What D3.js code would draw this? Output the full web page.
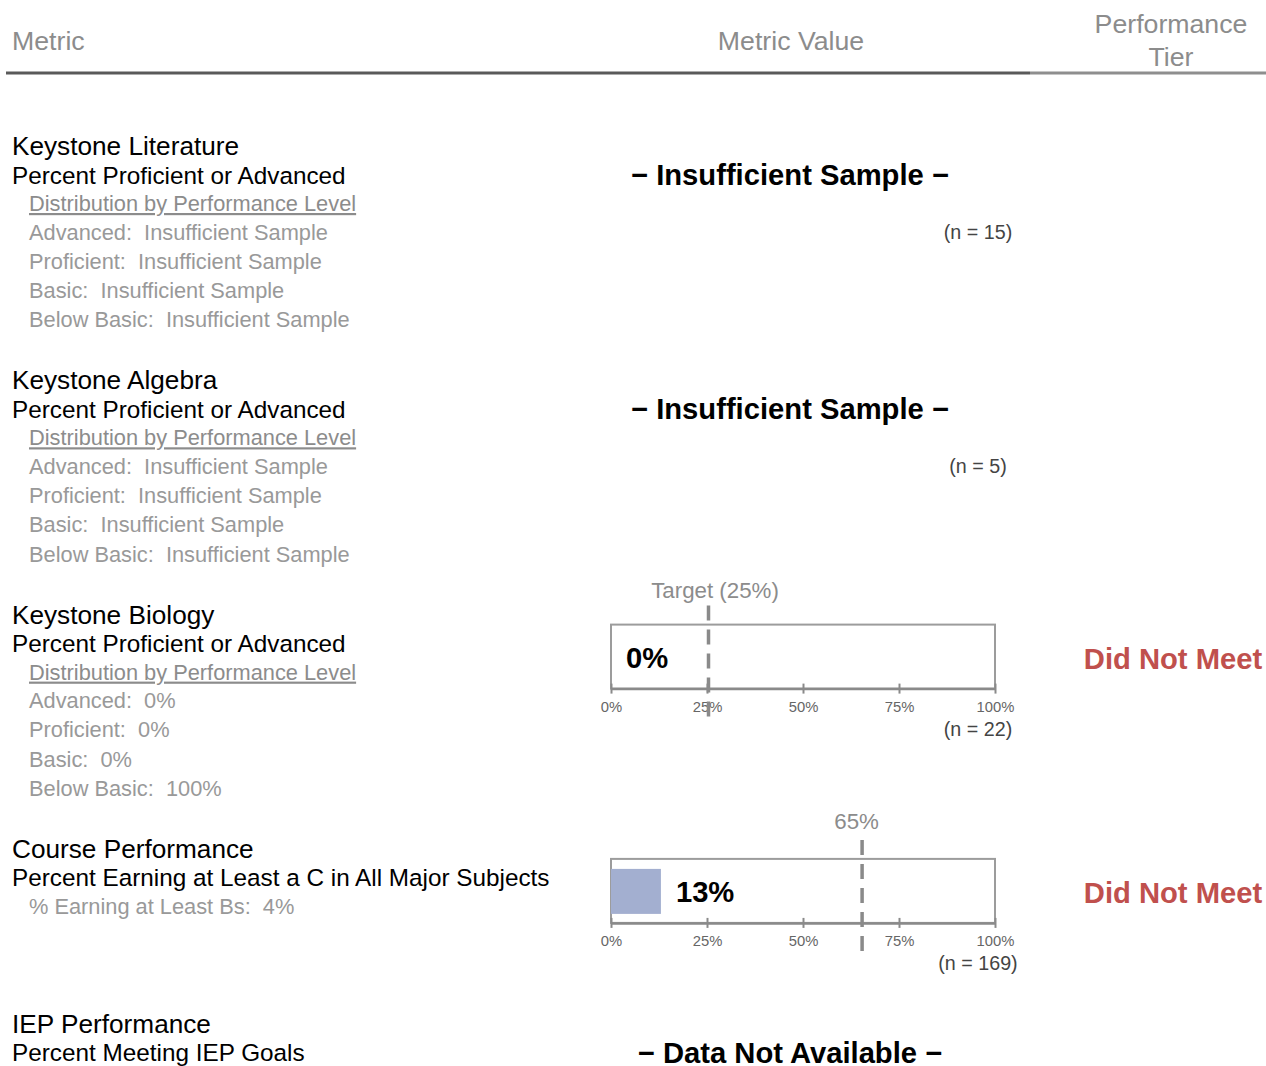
<!DOCTYPE html>
<html>
<head>
<meta charset="utf-8">
<script src="https://cdn.jsdelivr.net/npm/d3@7/dist/d3.min.js"></script>
<style>
  html, body { margin: 0; padding: 0; background: #fff; }
  svg { display: block; font-family: "Liberation Sans", Arial, sans-serif; }
</style>
</head>
<body>
<script>
// ---- data ----
const headerLabels = ["Metric", "Metric Value", "Performance Tier"];
const sectionTitles = ["Keystone Literature", "Keystone Algebra", "Keystone Biology", "Course Performance", "IEP Performance"];
const metricNames = [
  "Percent Proficient or Advanced",
  "Percent Proficient or Advanced",
  "Percent Proficient or Advanced",
  "Percent Earning at Least a C in All Major Subjects",
  "Percent Meeting IEP Goals"
];
const values = [null, null, 0, 13, null];
const targets = [null, null, 25, 65, null];
const targetLabels = [null, null, "Target (25%)", "65%", null];
const sampleSizes = [15, 5, 22, 169, null];
const statusTexts = ["Insufficient Sample", "Insufficient Sample", null, null, "Data Not Available"];
const tiers = [null, null, "Did Not Meet", "Did Not Meet", null];
const distHeading = "Distribution by Performance Level";
const levelNames = ["Advanced", "Proficient", "Basic", "Below Basic"];
const levelValues = [
  ["Insufficient Sample", "Insufficient Sample", "Insufficient Sample", "Insufficient Sample"],
  ["Insufficient Sample", "Insufficient Sample", "Insufficient Sample", "Insufficient Sample"],
  ["0%", "0%", "0%", "100%"],
  null,
  null
];
const subMetrics = [null, null, null, "% Earning at Least Bs:  4%", null];
const tickValues = [0, 25, 50, 75, 100];

// ---- layout ----
const W = 1266, H = 1066;
const svg = d3.select("body").append("svg").attr("width", W).attr("height", H);

const x = d3.scaleLinear().domain([0, 100]).range([611, 995]);
const valueCenter = 790, nCenter = 978, tierCenter = 1173;
const grayText = "#8c8c8c";
const lightText = "#999";
// per-chart label placement tweaks (layout only)
const labelDx = [0, 0, 6.5, -5.5, 0];
const labelDy = [0, 0, -27, -30, 0];

// header
svg.append("text").attr("x", 12).attr("y", 50).attr("font-size", 26.7).attr("fill", grayText).text(headerLabels[0]);
svg.append("text").attr("x", 791).attr("y", 50).attr("text-anchor", "middle").attr("font-size", 26.7).attr("fill", grayText).text(headerLabels[1]);
const tierWords = headerLabels[2].split(" ");
tierWords.forEach((w, i) => {
  svg.append("text").attr("x", 1171).attr("y", 33 + i * 33).attr("text-anchor", "middle")
    .attr("font-size", 26.7).attr("fill", grayText).text(w);
});
svg.append("line").attr("x1", 6).attr("x2", 1030).attr("y1", 73).attr("y2", 73).attr("stroke", "#5a5a5a").attr("stroke-width", 3);
svg.append("line").attr("x1", 1030).attr("x2", 1266).attr("y1", 73).attr("y2", 73).attr("stroke", "#8e8e8e").attr("stroke-width", 3);

// sections
let yTitle = 146;
sectionTitles.forEach((title, i) => {
  const g = svg.append("g");
  const ty = yTitle;
  g.append("text").attr("x", 12).attr("y", ty + 9).attr("font-size", 26.2).attr("fill", "#000").text(title);
  g.append("text").attr("x", 12).attr("y", ty + 37.5).attr("font-size", 24.3).attr("fill", "#000").text(metricNames[i]);

  let lines = 0;
  if (levelValues[i]) {
    g.append("text").attr("x", 29).attr("y", ty + 65).attr("font-size", 21.8).attr("fill", grayText)
      .attr("text-decoration", "underline").text(distHeading);
    levelNames.forEach((ln, j) => {
      g.append("text").attr("x", 29).attr("y", ty + 93.5 + j * 29.3).attr("font-size", 21.8).attr("fill", lightText)
        .style("white-space", "pre").text(ln + ":  " + levelValues[i][j]);
    });
    lines = 5;
  }
  if (subMetrics[i]) {
    g.append("text").attr("x", 29).attr("y", ty + 65).attr("font-size", 21.8).attr("fill", lightText)
      .style("white-space", "pre").text(subMetrics[i]);
    lines = 1;
  }

  // metric value column
  if (statusTexts[i]) {
    g.append("text").attr("x", valueCenter).attr("y", ty + 39).attr("text-anchor", "middle")
      .attr("font-size", 29.2).attr("font-weight", "bold").attr("fill", "#000")
      .text("\u2212 " + statusTexts[i] + " \u2212");
    if (sampleSizes[i] != null) {
      g.append("text").attr("x", nCenter).attr("y", ty + 93).attr("text-anchor", "middle")
        .attr("font-size", 19.7).attr("fill", "#444").text("(n = " + sampleSizes[i] + ")");
    }
  } else if (values[i] != null) {
    const top = ty + 10;
    const axisY = top + 64;
    // box
    g.append("rect").attr("x", x(0)).attr("y", top).attr("width", x(100) - x(0)).attr("height", axisY - top)
      .attr("fill", "none").attr("stroke", "#9c9c9c").attr("stroke-width", 2);
    // bar
    g.append("rect").attr("x", x(0)).attr("y", top + 10).attr("width", x(values[i]) - x(0)).attr("height", 45)
      .attr("fill", "#a3afd0");
    // axis
    const axis = d3.axisBottom(x).tickValues(tickValues).tickFormat(d => d + "%")
      .tickSizeInner(5).tickSizeOuter(0).tickPadding(8);
    const ag = g.append("g").attr("transform", `translate(0,${axisY})`).call(axis);
    ag.select(".domain").attr("stroke", "#8a8a8a").attr("stroke-width", 2.5);
    ag.selectAll(".tick line").attr("y1", -5).attr("y2", 5).attr("stroke", "#8a8a8a").attr("stroke-width", 2);
    ag.selectAll(".tick text").attr("font-size", 14.8).attr("fill", "#666").attr("font-family", "Liberation Sans, Arial, sans-serif");
    // value label
    g.append("text").attr("x", x(values[i]) + 15).attr("y", top + 43)
      .attr("font-size", 29.2).attr("font-weight", "bold").attr("fill", "#000").text(values[i] + "%");
    // target line
    const tx = x(targets[i]) + 1.5;
    g.append("line").attr("x1", tx).attr("x2", tx).attr("y1", top - 19).attr("y2", axisY + 28)
      .attr("stroke", "#8a8a8a").attr("stroke-width", 3.5).attr("stroke-dasharray", "15,9");
    g.append("text").attr("x", tx + labelDx[i]).attr("y", top + labelDy[i]).attr("text-anchor", "middle")
      .attr("font-size", 22.3).attr("fill", grayText).text(targetLabels[i]);
    // n
    g.append("text").attr("x", nCenter).attr("y", axisY + 47).attr("text-anchor", "middle")
      .attr("font-size", 19.7).attr("fill", "#444").text("(n = " + sampleSizes[i] + ")");
  }

  if (tiers[i]) {
    g.append("text").attr("x", tierCenter).attr("y", ty + 54).attr("text-anchor", "middle")
      .attr("font-size", 29.2).attr("font-weight", "bold").attr("fill", "#c0504d").text(tiers[i]);
  }

  yTitle += lines === 5 ? 234.3 : 175;
});
</script>
</body>
</html>
